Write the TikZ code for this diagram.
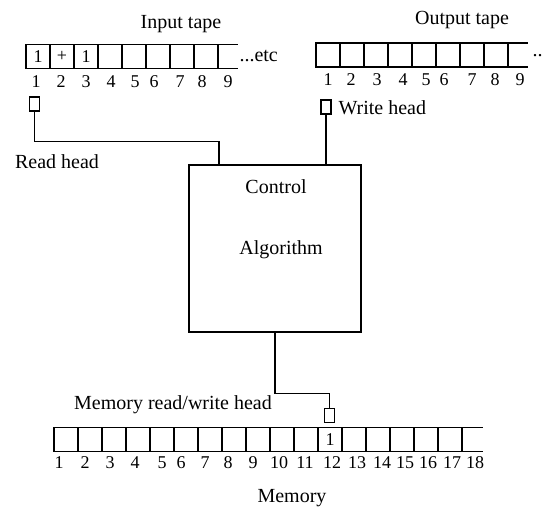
\documentclass[tikz,border=0pt]{standalone}
\usepackage{fontspec}
\setmainfont{Liberation Serif}
\begin{document}
\begin{tikzpicture}[x=1pt, y=-1pt, line width=1.1pt,
    every node/.style={font=\fontsize{20}{24}\selectfont, inner sep=1pt},
    cell/.style={draw, minimum width=24pt, minimum height=24pt, inner sep=0pt, outer sep=0pt},
    head/.style={draw, minimum width=10pt, minimum height=14pt, inner sep=0pt},
    num/.style={font=\fontsize{18}{20}\selectfont, inner sep=0pt}]
    \useasboundingbox (0,0) rectangle (545,509);

    % Input tape
    \node (intitle) at (181,24) {Input tape};
    \foreach \i in {1,...,8}
        \node[cell] (in\i) at (14+24*\i,56.5) {};
    \draw (in8.north east) -- ([xshift=20pt]in8.north east);
    \draw (in8.south east) -- ([xshift=20pt]in8.south east);
    \node[num] at (in1) {1};
    \node[num] at (in2) {+};
    \node[num] at (in3) {1};
    \node[anchor=west] (inetc) at (238,56) {...etc};
    \foreach \i/\x in {1/36,2/61,3/86,4/111,5/135,6/154,7/180,8/202,9/228}
        \node[num] (innum\i) at (\x,82) {\i};

    % Output tape
    \node (outtitle) at (462,20) {Output tape};
    \foreach \i in {1,...,8}
        \node[cell] (out\i) at (304+24*\i,55) {};
    \draw (out8.north east) -- ([xshift=20pt]out8.north east);
    \draw (out8.south east) -- ([xshift=20pt]out8.south east);
    \node[anchor=west] (outetc) at (531,56) {..};
    \foreach \i/\x in {1/328,2/351,3/377,4/403,5/426,6/444,7/472,8/495,9/520}
        \node[num] (outnum\i) at (\x,80) {\i};

    % Heads
    \node[head] (rhead) at (34.5,104) {};
    \node (rlabel) at (57,162) {Read head};
    \node[head] (whead) at (326,107) {};
    \node[anchor=west] (wlabel) at (337,108) {Write head};

    % Control unit
    \node[draw, minimum width=172pt, minimum height=167pt] (ctrl) at (275,248.5) {};
    \node (ctrltext) at (276,187) {Control};
    \node (algtext) at (281,250) {Algorithm};

    % Memory tape
    \foreach \i in {1,...,17}
        \node[cell] (mem\i) at (42+24*\i,439.5) {};
    \draw (mem17.north east) -- ([xshift=21pt]mem17.north east);
    \draw (mem17.south east) -- ([xshift=21pt]mem17.south east);
    \node[num] at (mem12) {1};
    \foreach \i/\x in {1/59,2/85,3/110,4/135,5/162,6/181,7/205,8/228,9/253,10/279,
                       11/305,12/332,13/357,14/382,15/405,16/428,17/452,18/475}
        \node[num] (memnum\i) at (\x,463) {\i};
    \node[head] (mhead) at (329.5,415.5) {};
    \node (mlabel) at (173,405) {Memory read/write head};
    \node (memtitle) at (292,498) {Memory};

    % Connections
    \draw (rhead.south) -- ++(0,30) -| ([xshift=-56pt]ctrl.north);
    \draw (whead.south) -- (whead.south |- ctrl.north);
    \draw (ctrl.south) -- ++(0,61) -| (mhead.north);
\end{tikzpicture}
\end{document}
